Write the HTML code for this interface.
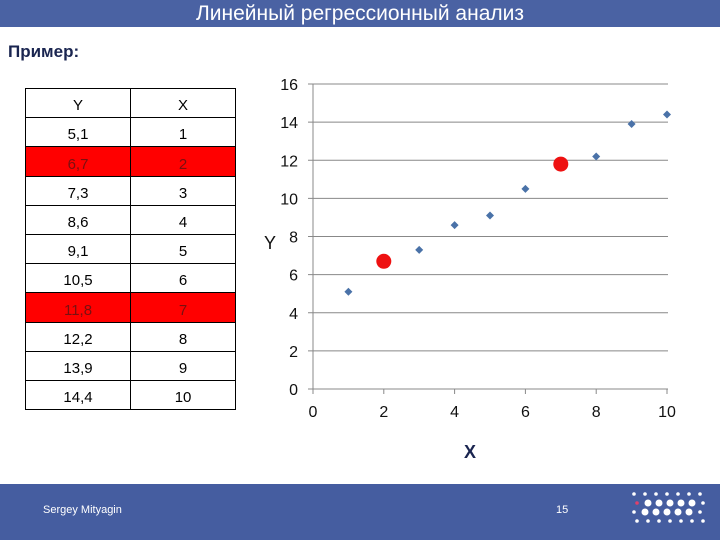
<!DOCTYPE html>
<html><head><meta charset="utf-8"><style>
body{margin:0;width:720px;height:540px;background:#fff;position:relative;overflow:hidden;font-family:"Liberation Sans","DejaVu Sans",sans-serif}
.hdr{position:absolute;left:0;top:0;width:720px;height:27px;background:#4a62a3;color:#fff;font-size:21px;text-align:center;line-height:27px}
.ex{position:absolute;left:8px;top:42px;font-size:17px;font-weight:bold;color:#1a2550}
table{position:absolute;left:25px;top:88px;border-collapse:collapse;width:211px}
tr{height:29.2px}
td{border:1px solid #000;padding:0;text-align:center;font-size:15px;vertical-align:bottom;padding-bottom:3px;width:105px}
tr.r td{background:#ff0000;color:#7a1010}
.ftr{position:absolute;left:0;top:484px;width:720px;height:56px;background:#455da0;color:#fff}
</style></head><body>
<div class="hdr">Линейный регрессионный анализ</div>
<div class="ex">Пример:</div>
<table>
<tr><td>Y</td><td>X</td></tr>
<tr><td>5,1</td><td>1</td></tr>
<tr class="r"><td>6,7</td><td>2</td></tr>
<tr><td>7,3</td><td>3</td></tr>
<tr><td>8,6</td><td>4</td></tr>
<tr><td>9,1</td><td>5</td></tr>
<tr><td>10,5</td><td>6</td></tr>
<tr class="r"><td>11,8</td><td>7</td></tr>
<tr><td>12,2</td><td>8</td></tr>
<tr><td>13,9</td><td>9</td></tr>
<tr><td>14,4</td><td>10</td></tr>
</table>
<svg id="chart" width="720" height="540" style="position:absolute;left:0;top:0"></svg>
<div class="ftr">
<div style="position:absolute;left:43px;top:20px;font-size:11px">Sergey Mityagin</div>
<div style="position:absolute;left:556px;top:20px;font-size:11px">15</div>
<svg id="logo" width="80" height="50" style="position:absolute;left:628px;top:4px"></svg>
</div>
<script>
const xVals=[1,2,3,4,5,6,7,8,9,10];
const yVals=[5.1,6.7,7.3,8.6,9.1,10.5,11.8,12.2,13.9,14.4];
const highlighted=[2,7];
const yTicks=[0,2,4,6,8,10,12,14,16];
const xTicks=[0,2,4,6,8,10];
const NS="http://www.w3.org/2000/svg";
const svg=document.getElementById('chart');
const sx=v=>313+v*(667-313)/10;
const sy=v=>389-v*(389-84)/16;
function mk(t,a,txt){const e=document.createElementNS(NS,t);for(const k in a)e.setAttribute(k,a[k]);if(txt!==undefined)e.textContent=txt;svg.appendChild(e);return e;}
yTicks.forEach(t=>{
 const l=mk('line',{x1:308,x2:668,y1:sy(t),y2:sy(t),stroke:'#888','stroke-width':1});
 
 
 const tx=mk('text',{x:298,y:sy(t)+6,'text-anchor':'end','font-size':16,fill:'#111'},String(t));
 
 
});
const ya=mk('line',{x1:313,x2:313,y1:84,y2:394,stroke:'#888'});


xTicks.forEach(t=>{
 const l=mk('line',{x1:sx(t),x2:sx(t),y1:389,y2:394,stroke:'#888'});
 
 
 const tx=mk('text',{x:sx(t),y:417,'text-anchor':'middle','font-size':16,fill:'#111'},String(t));
 
 
});
xVals.forEach((x,i)=>{
 const cx=sx(x),cy=sy(yVals[i]);
 if(highlighted.includes(x)){
  const c=mk('circle',{cx:cx,cy:cy,r:7.5,fill:'#ee1111'});
  
  
 }else{
  const p=mk('polygon',{points:`${cx},${cy-4} ${cx+4},${cy} ${cx},${cy+4} ${cx-4},${cy}`,fill:'#4a72a8'});
  
  
 }
});
const yl=mk('text',{x:270,y:249,'text-anchor':'middle','font-size':18,fill:'#111'},'Y');


const xl=mk('text',{x:470,y:458,'text-anchor':'middle','font-size':18,'font-weight':'bold',fill:'#1a2550'},'X');


const logo=document.getElementById('logo');
for(let r=0;r<4;r++)for(let c=0;c<7;c++){
 const d=document.createElementNS(NS,'circle');
 const big=(r==1||r==2)&&c>0&&c<6;
 d.setAttribute('cx',6+c*11+(r%2)*3);d.setAttribute('cy',6+r*9);
 d.setAttribute('r',big?3.5:1.8);
 d.setAttribute('fill',(r==1&&c==0)?'#e0406a':'#fff');
 
 
 logo.appendChild(d);
}
</script>
</body></html>
